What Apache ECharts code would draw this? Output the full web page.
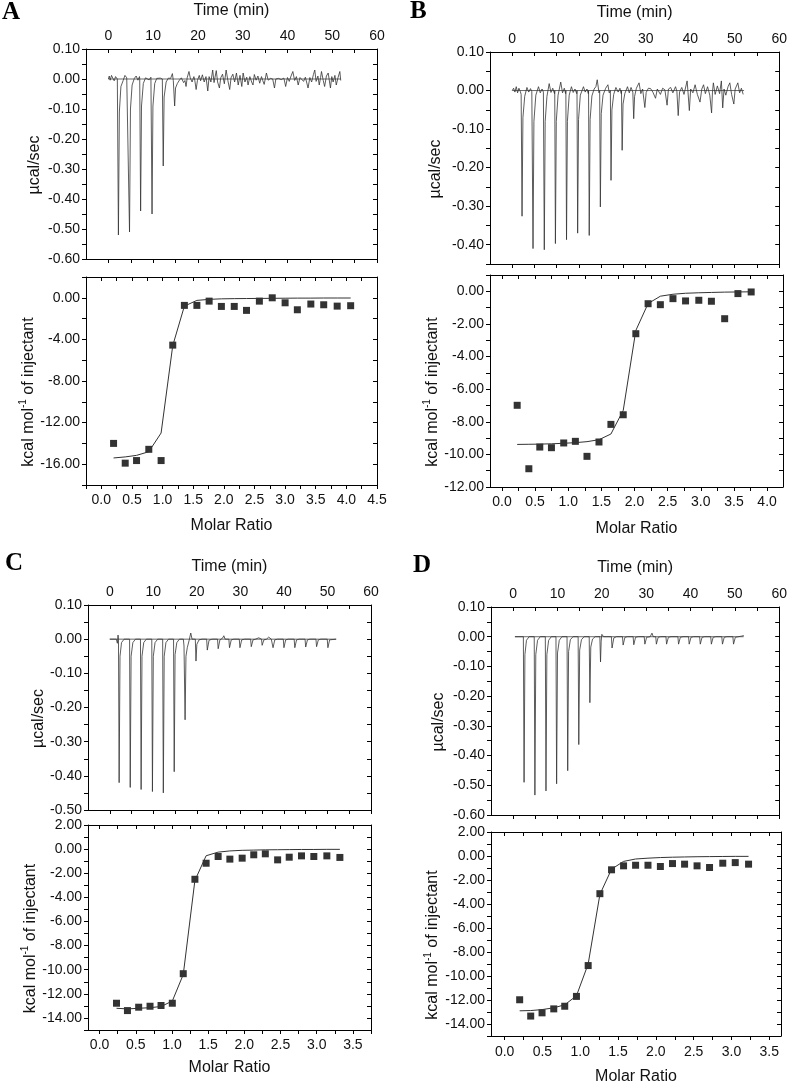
<!DOCTYPE html>
<html><head><meta charset="utf-8">
<script src="https://cdn.jsdelivr.net/npm/echarts@6/dist/echarts.min.js"></script>
<style>html,body{margin:0;padding:0;background:#fff}#c{width:790px;height:1086px}</style>
</head><body><div id="c"></div>
<script>
// ---------------- DATA ----------------
const timeLabels = [0,10,20,30,40,50,60];
const timeTicks = [0,5,10,15,20,25,30,35,40,45,50,55,60];

const powerLabA = [0.1,0,-0.1,-0.2,-0.3,-0.4,-0.5,-0.6];
const powerTickA = [0.1,0.05,0,-0.05,-0.1,-0.15,-0.2,-0.25,-0.3,-0.35,-0.4,-0.45,-0.5,-0.55,-0.6];
const powerLabB = [0.1,0,-0.1,-0.2,-0.3,-0.4];
const powerTickB = [0.1,0.05,0,-0.05,-0.1,-0.15,-0.2,-0.25,-0.3,-0.35,-0.4,-0.45];
const powerLabC = [0.1,0,-0.1,-0.2,-0.3,-0.4,-0.5];
const powerTickC = [0.1,0.05,0,-0.05,-0.1,-0.15,-0.2,-0.25,-0.3,-0.35,-0.4,-0.45,-0.5];
const powerLabD = [0.1,0,-0.1,-0.2,-0.3,-0.4,-0.5,-0.6];
const powerTickD = [0.1,0.05,0,-0.05,-0.1,-0.15,-0.2,-0.25,-0.3,-0.35,-0.4,-0.45,-0.5,-0.55,-0.6];

const heatLabA = [0,-4,-8,-12,-16];
const heatTickA = [2,0,-2,-4,-6,-8,-10,-12,-14,-16,-18];
const heatLabB = [0,-2,-4,-6,-8,-10,-12];
const heatTickB = [1,0,-1,-2,-3,-4,-5,-6,-7,-8,-9,-10,-11,-12];
const heatLabC = [2,0,-2,-4,-6,-8,-10,-12,-14];
const heatTickC = [2,1,0,-1,-2,-3,-4,-5,-6,-7,-8,-9,-10,-11,-12,-13,-14,-15];
const heatLabD = [2,0,-2,-4,-6,-8,-10,-12,-14];
const heatTickD = [2,1,0,-1,-2,-3,-4,-5,-6,-7,-8,-9,-10,-11,-12,-13,-14,-15];

const ratioLabA = [0,0.5,1,1.5,2,2.5,3,3.5,4,4.5];
const ratioTickA = [-0.25,0,0.25,0.5,0.75,1,1.25,1.5,1.75,2,2.25,2.5,2.75,3,3.25,3.5,3.75,4,4.25,4.5];
const ratioLabB = [0,0.5,1,1.5,2,2.5,3,3.5,4];
const ratioTickB = [0,0.25,0.5,0.75,1,1.25,1.5,1.75,2,2.25,2.5,2.75,3,3.25,3.5,3.75,4];
const ratioLabC = [0,0.5,1,1.5,2,2.5,3,3.5];
const ratioTickC = [0,0.25,0.5,0.75,1,1.25,1.5,1.75,2,2.25,2.5,2.75,3,3.25,3.5,3.75];
const ratioLabD = [0,0.5,1,1.5,2,2.5,3,3.5];
const ratioTickD = [0,0.25,0.5,0.75,1,1.25,1.5,1.75,2,2.25,2.5,2.75,3,3.25,3.5];

// raw thermograms [time (min), power (ucal/sec)]
const thermoA = [
[0,0],[0.2,0.01],[0.4,-0.004],[0.7,0.012],[1.0,0.002],[1.3,-0.006],[1.6,0.008],[1.9,0.002],
[2.0,0],[2.24,-0.52],[2.45,-0.11],[2.8,-0.025],[3.3,-0.005],[3.7,0.012],[4.1,0.004],[4.45,0.006],
[4.5,0],[4.72,-0.51],[4.93,-0.1],[5.3,-0.02],[5.8,0.002],[6.2,0.01],[6.6,-0.004],[6.95,0.008],
[7.0,0],[7.2,-0.44],[7.4,-0.09],[7.8,-0.015],[8.3,0.004],[8.7,0.01],[9.1,-0.003],[9.5,0.006],
[9.55,0],[9.75,-0.45],[9.95,-0.09],[10.35,-0.015],[10.8,0.002],[11.2,0.006],[11.6,0.003],[12.0,0.004],
[12.05,0],[12.25,-0.29],[12.45,-0.06],[12.9,-0.01],[13.4,0.003],[13.9,0.002],[14.3,0.018],[14.5,-0.005],
[14.6,0],[14.8,-0.09],[15.0,-0.03],[15.4,-0.015],[15.9,-0.003],[16.3,0.004],[16.8,-0.012],[17.1,-0.005],
[17.35,-0.025],[17.6,0.004],[18.0,0.025],[18.3,0.003],[18.7,-0.01],[19.1,0.008],[19.3,-0.004],
[19.6,-0.035],[19.9,-0.004],[20.3,0.012],[20.6,-0.006],[21.0,0.014],[21.4,-0.01],[21.8,0.008],
[22.2,-0.04],[22.5,0.008],[22.9,-0.01],[23.3,0.03],[23.6,-0.012],[24.1,0.028],[24.4,-0.01],
[24.8,-0.03],[25.1,0.004],[25.5,0.016],[25.9,-0.016],[26.3,0.03],[26.7,-0.006],
[27.1,-0.035],[27.4,0.004],[27.8,0.016],[28.2,-0.01],[28.6,0.02],[29.0,-0.02],[29.4,0.012],
[29.8,-0.025],[30.1,0.02],[30.5,-0.01],[30.9,0.006],[31.2,-0.02],[31.6,0.008],[32.0,-0.01],
[32.3,-0.02],[32.6,0.015],[33.0,-0.004],[33.4,0.01],[33.8,-0.014],[34.2,0.008],[34.5,-0.006],
[34.8,-0.018],[35.3,0.02],[35.7,-0.004],[36.2,0.002],[36.7,0],
[37.1,-0.03],[37.4,0],[38.0,0.002],[38.6,-0.002],[39.2,0.003],
[39.6,-0.025],[40.0,0.005],[40.4,-0.008],[40.8,0.01],[41.2,0.025],[41.6,-0.005],[42.0,0.008],
[42.4,-0.02],[42.8,0.005],[43.2,0.01],[43.6,-0.008],[44.0,0.006],
[44.6,-0.03],[45.0,0.005],[45.4,-0.01],[45.8,0.015],[46.1,0.03],[46.4,-0.008],[46.8,0.01],
[47.1,-0.02],[47.4,0.005],[47.6,0.025],[48.0,-0.005],
[48.3,-0.025],[48.7,0.01],[49.1,0.02],
[49.6,-0.03],[49.9,0.008],[50.2,-0.01],[50.6,0.012],[50.9,-0.02],[51.3,0.005],[51.7,0.025],[51.9,-0.005]
];
const thermoB = [
[0,0],[0.3,0.006],[0.6,-0.004],[0.9,0.01],[1.2,-0.006],[1.5,0.006],[1.8,-0.002],
[2.0,-0.01],[2.2,-0.326],[2.4,-0.07],[2.8,-0.015],[3.3,0.008],[3.7,-0.004],[4.1,0.005],[4.4,-0.003],
[4.5,0],[4.67,-0.41],[4.87,-0.08],[5.3,-0.012],[5.9,0.01],[6.3,-0.006],[6.7,0.004],[7.0,-0.004],
[7.05,0],[7.2,-0.413],[7.4,-0.08],[7.8,-0.015],[8.3,0.018],[8.7,-0.005],[9.1,0.006],[9.5,-0.008],
[9.55,0],[9.7,-0.397],[9.9,-0.08],[10.3,-0.012],[10.9,0.022],[11.3,-0.006],[11.7,0.006],[12.0,-0.008],
[12.05,0],[12.2,-0.387],[12.4,-0.08],[12.8,-0.012],[13.3,0.01],[13.7,-0.005],[14.1,0.004],[14.5,-0.008],
[14.55,0],[14.7,-0.37],[14.9,-0.075],[15.3,-0.012],[16.0,0.01],[16.4,-0.004],[16.8,0.004],[17.1,-0.008],
[17.15,0],[17.3,-0.376],[17.5,-0.075],[17.9,-0.014],[18.4,0.004],[18.8,0.01],[19.1,0.028],[19.5,-0.006],
[19.65,0],[19.8,-0.302],[20.0,-0.06],[20.4,-0.012],[21.0,0.006],[21.5,0.015],[21.8,-0.006],
[22.05,0],[22.2,-0.233],[22.4,-0.05],[22.8,-0.01],[23.3,0.008],[23.8,-0.004],[24.2,0.006],[24.5,-0.008],
[24.55,0],[24.7,-0.155],[24.9,-0.035],[25.3,-0.008],[25.9,0.01],[26.3,-0.006],[26.7,0.008],[27.1,-0.004],
[27.3,-0.073],[27.5,-0.015],[27.9,0.006],[28.5,0.02],[28.9,-0.008],[29.3,0.004],
[29.8,-0.044],[30.1,-0.005],[30.6,0.006],[31.1,0.005],[31.6,-0.004],
[32.2,-0.02],[32.6,0.004],[33.3,-0.01],[33.8,0.006],[34.3,0.002],
[34.8,-0.038],[35.1,0.004],[35.6,0.008],[36.1,-0.006],[36.7,0.01],[37.0,-0.002],
[37.3,-0.065],[37.6,-0.004],[38.1,0.008],[38.6,-0.01],[39.3,0.025],[39.5,-0.004],
[39.8,-0.052],[40.1,0.004],[40.6,-0.006],[41.1,0.015],[41.6,-0.01],
[42.2,-0.03],[42.6,0.004],[43.0,0.015],[43.4,-0.008],[43.9,0.01],[44.4,-0.012],
[44.8,-0.058],[45.0,-0.004],[45.2,0.02],[45.6,-0.01],[46.1,0.012],[46.6,-0.008],[47.0,0.025],
[47.3,-0.045],[47.6,0.004],[48.0,-0.012],[48.5,0.01],[48.9,0.02],[49.3,-0.01],
[49.8,-0.035],[50.1,0.004],[50.7,0.02],[51.1,-0.006],[51.5,0.006],[51.9,-0.01]
];
const thermoC = [
[0,0],[1.5,0],[1.75,-0.012],[1.9,0.012],[2.0,0],
[2.15,-0.42],[2.35,-0.05],[2.7,-0.01],[3.3,0],
[4.55,0],[4.7,-0.434],[4.9,-0.05],[5.3,-0.01],[5.9,0],
[7.05,0],[7.2,-0.44],[7.4,-0.05],[7.8,-0.01],[8.4,0],
[9.65,0],[9.8,-0.446],[10.0,-0.05],[10.4,-0.01],[11.0,0],
[12.15,0],[12.3,-0.45],[12.5,-0.05],[12.9,-0.01],[13.5,0],
[14.65,0],[14.8,-0.388],[15.0,-0.045],[15.4,-0.01],[16.0,0],
[16.9,0],[17.05,-0.02],[17.3,-0.236],[17.5,-0.05],[17.8,-0.025],[18.2,-0.005],[18.6,0.018],[18.9,0],
[19.65,0],[19.8,-0.064],[20.0,-0.015],[20.5,-0.002],[21.2,0],
[22.25,0],[22.4,-0.032],[22.8,-0.003],[23.5,0],
[24.75,0],[24.9,-0.028],[25.3,-0.002],[25.9,0.003],[26.2,0.01],[26.5,0],
[27.35,0],[27.5,-0.025],[27.9,-0.002],[28.5,0],
[29.75,0],[29.9,-0.025],[30.3,-0.002],[31,0],
[32.35,0],[32.5,-0.022],[32.9,-0.002],[33.5,0],[34.2,0.004],[34.6,0],
[34.85,0],[35.0,-0.018],[35.4,-0.002],[36.0,0],[36.5,0.006],[36.8,0.01],[37.1,0],
[37.35,0],[37.5,-0.025],[37.9,-0.002],[38.5,0],
[39.85,0],[40.0,-0.025],[40.4,-0.002],[41,0],
[42.35,0],[42.5,-0.025],[42.9,-0.002],[43.5,0],
[44.85,0],[45.0,-0.023],[45.4,-0.002],[46,0],
[47.35,0],[47.5,-0.022],[47.9,-0.002],[48.5,0],
[49.95,0],[50.1,-0.025],[50.5,-0.002],[52.0,0]
];
const thermoD = [
[0.4,0],[2.3,0],[2.46,-0.49],[2.65,-0.06],[3.0,-0.012],[3.6,0],
[4.75,0],[4.9,-0.533],[5.1,-0.06],[5.5,-0.012],[6.1,0],
[7.25,0],[7.4,-0.519],[7.6,-0.06],[8.0,-0.012],[8.6,0],
[9.65,0],[9.8,-0.495],[10.0,-0.055],[10.4,-0.012],[11.0,0],
[12.15,0],[12.3,-0.451],[12.5,-0.05],[12.9,-0.01],[13.5,0],
[14.65,0],[14.8,-0.363],[15.0,-0.045],[15.4,-0.01],[16.0,0],
[17.15,0],[17.3,-0.222],[17.5,-0.035],[17.9,-0.008],[18.5,0],
[19.55,0],[19.7,-0.085],[19.85,-0.015],[20.0,0.008],[20.4,0],
[22.15,0],[22.3,-0.038],[22.7,-0.004],[23.3,0],
[24.65,0],[24.8,-0.028],[25.2,-0.002],[25.8,0],
[27.05,0],[27.2,-0.027],[27.6,-0.002],[28.2,0],
[29.55,0],[29.7,-0.025],[30.1,-0.002],[30.9,0],[31.3,0.012],[31.6,0],
[32.15,0],[32.3,-0.025],[32.7,-0.002],[33.3,0],
[34.45,0],[34.6,-0.025],[35.0,-0.002],[35.6,0],
[37.15,0],[37.3,-0.025],[37.7,-0.002],[38.3,0],
[39.55,0],[39.7,-0.025],[40.1,-0.002],[40.7,0],
[42.05,0],[42.2,-0.025],[42.6,-0.002],[43.2,0],
[44.55,0],[44.7,-0.025],[45.1,-0.002],[45.7,0],
[47.05,0],[47.2,-0.025],[47.6,-0.002],[48.2,0],
[49.55,0],[49.7,-0.025],[50.1,-0.002],[51.5,0.002],[52.0,0.004]
];
const baselineA = [[0,0],[51.9,0]];
const baselineB = [[0,0],[52.1,0]];
const baselineC = [[0,0],[52.0,0]];
const baselineD = [[0.4,0],[52.0,0]];

// integrated heats
const ratioA = [0.20,0.39,0.575,0.775,0.976,1.166,1.356,1.56,1.76,1.96,2.17,2.37,2.58,2.79,3.0,3.2,3.42,3.63,3.85,4.07];
const heatA  = [-14.0,-15.9,-15.65,-14.57,-15.65,-4.55,-0.73,-0.73,-0.32,-0.83,-0.83,-1.21,-0.32,0.0,-0.48,-1.15,-0.6,-0.67,-0.8,-0.76];
const fitA   = [-15.4,-15.3,-15.15,-14.8,-13.0,-4.6,-0.8,-0.25,-0.15,-0.1,-0.08,-0.07,-0.06,-0.05,-0.04,-0.03,-0.03,-0.02,-0.02,-0.02];

const ratioB = [0.23,0.406,0.571,0.747,0.932,1.108,1.283,1.464,1.644,1.83,2.02,2.205,2.39,2.58,2.77,2.97,3.16,3.36,3.56,3.76];
const heatB  = [-6.99,-10.88,-9.55,-9.59,-9.3,-9.2,-10.12,-9.24,-8.16,-7.57,-2.6,-0.76,-0.82,-0.45,-0.59,-0.55,-0.61,-1.68,-0.14,-0.04];
const fitB   = [-9.39,-9.38,-9.37,-9.35,-9.32,-9.28,-9.22,-9.1,-8.75,-7.3,-2.4,-0.75,-0.3,-0.18,-0.12,-0.09,-0.07,-0.05,-0.04,-0.03];

const ratioC = [0.234,0.385,0.54,0.697,0.849,1.005,1.156,1.317,1.472,1.638,1.80,1.97,2.13,2.29,2.46,2.62,2.79,2.96,3.14,3.32];
const heatC  = [-12.78,-13.39,-13.11,-13.03,-12.97,-12.78,-10.33,-2.5,-1.17,-0.61,-0.83,-0.75,-0.47,-0.39,-0.89,-0.67,-0.56,-0.61,-0.56,-0.69];
const fitC   = [-13.2,-13.25,-13.2,-13.15,-13.05,-12.6,-10.4,-2.6,-0.55,-0.25,-0.15,-0.1,-0.08,-0.06,-0.05,-0.04,-0.03,-0.03,-0.02,-0.02];

const ratioD = [0.199,0.345,0.495,0.65,0.795,0.95,1.105,1.26,1.414,1.573,1.732,1.896,2.06,2.22,2.38,2.545,2.71,2.885,3.05,3.226];
const heatD  = [-11.98,-13.34,-13.07,-12.74,-12.52,-11.7,-9.13,-3.14,-1.15,-0.82,-0.77,-0.77,-0.875,-0.63,-0.68,-0.82,-0.96,-0.6,-0.55,-0.68];
const fitD   = [-12.9,-12.88,-12.8,-12.65,-12.4,-11.65,-9.0,-3.2,-1.1,-0.45,-0.25,-0.18,-0.13,-0.1,-0.08,-0.06,-0.05,-0.04,-0.03,-0.03];

// ---------------- LAYOUT ----------------
const FONT = '"Liberation Sans", Arial, Helvetica, sans-serif';
const panels = [
  { letter:'A', lx:2, ly:0,
    top:{left:86, top:49, width:291, height:210, ymin:-0.6, ymax:0.1, lab:powerLabA, tick:powerTickA, data:thermoA, base:baselineA, nameGap:43, tGap:30, tMargin:6},
    bot:{left:86, top:277, width:291, height:208, xmin:-0.25, xmax:4.5, ymin:-18, ymax:2, xlab:ratioLabA, xtick:ratioTickA, ylab:heatLabA, ytick:heatTickA, r:ratioA, h:heatA, f:fitA, nameGap:47, xGap:33, xMargin:8} },
  { letter:'B', lx:410, ly:-1,
    top:{left:490, top:52, width:293, height:212, ymin:-0.45, ymax:0.1, lab:powerLabB, tick:powerTickB, data:thermoB, base:baselineB, nameGap:46, tGap:31, tMargin:6},
    bot:{left:490, top:275, width:293, height:212, xmin:-0.18, xmax:4.24, ymin:-12, ymax:1, xlab:ratioLabB, xtick:ratioTickB, ylab:heatLabB, ytick:heatTickB, r:ratioB, h:heatB, f:fitB, nameGap:47, xGap:34, xMargin:8} },
  { letter:'C', lx:5, ly:551,
    top:{left:88, top:605, width:283, height:205, ymin:-0.5, ymax:0.1, lab:powerLabC, tick:powerTickC, data:thermoC, base:baselineC, nameGap:41, tGap:30, tMargin:6},
    bot:{left:88, top:825, width:283, height:205, xmin:-0.16, xmax:3.75, ymin:-15, ymax:2, xlab:ratioLabC, xtick:ratioTickC, ylab:heatLabC, ytick:heatTickC, r:ratioC, h:heatC, f:fitC, nameGap:47, xGap:29.5, xMargin:8} },
  { letter:'D', lx:413, ly:553,
    top:{left:491, top:607, width:291, height:208, ymin:-0.6, ymax:0.1, lab:powerLabD, tick:powerTickD, data:thermoD, base:baselineD, nameGap:44, tGap:31, tMargin:6},
    bot:{left:491, top:832, width:290, height:208, xmin:-0.18, xmax:3.655, ymin:-15, ymax:2, xlab:ratioLabD, xtick:ratioTickD, ylab:heatLabD, ytick:heatTickD, r:ratioD, h:heatD, f:fitD, nameGap:48, xGap:33, xMargin:9.5} }
];

const grids=[], xAxes=[], yAxes=[], series=[], graphics=[];
const lineSt = {color:'#000', width:1};
const labelSt = {fontSize:14, color:'#111', fontFamily:FONT};
const nameSt = {fontSize:16, color:'#111', fontFamily:FONT};

function mkAxis(o){
  return {
    gridIndex:o.g, type:'value', position:o.pos, min:o.min, max:o.max,
    axisLine:{show:true, onZero:false, lineStyle:lineSt},
    axisTick:{show:true, inside:o.inside, length:o.len||4, customValues:o.ticks, lineStyle:lineSt},
    axisLabel:Object.assign({show:!!o.labels, customValues:o.labels||[], formatter:o.fmt, margin:o.margin||6}, labelSt),
    splitLine:{show:false}, minorTick:{show:false},
    name:o.name||'', nameLocation:'middle', nameGap:o.nameGap||20, nameTextStyle:o.nameStyle||nameSt
  };
}

const yNameShift = [0,22,0,0];
panels.forEach(p=>{
  // ---- top (raw) ----
  const t=p.top;
  grids.push({left:t.left, top:t.top, width:t.width, height:t.height});
  let g=grids.length-1;
  xAxes.push(mkAxis({g, pos:'top', min:-5, max:60, inside:true, ticks:timeTicks, labels:timeLabels, fmt:v=>String(v), margin:t.tMargin, name:'Time (min)', nameGap:t.tGap}));
  const xt=xAxes.length-1;
  xAxes.push(mkAxis({g, pos:'bottom', min:-5, max:60, inside:false, ticks:timeTicks}));
  yAxes.push(mkAxis({g, pos:'left', min:t.ymin, max:t.ymax, inside:false, ticks:t.tick, labels:t.lab, fmt:v=>v.toFixed(2), margin:6, name:'µcal/sec', nameGap:t.nameGap, nameStyle:Object.assign({padding:yNameShift}, nameSt)}));
  const yt=yAxes.length-1;
  yAxes.push(mkAxis({g, pos:'right', min:t.ymin, max:t.ymax, inside:true, ticks:t.tick}));
  series.push({type:'line', xAxisIndex:xt, yAxisIndex:yt, data:t.base, showSymbol:false, symbol:'none', lineStyle:{color:'#444', width:0.8}, silent:true});
  series.push({type:'line', xAxisIndex:xt, yAxisIndex:yt, data:t.data, showSymbol:false, symbol:'none', lineStyle:{color:'#333', width:0.8}, silent:true});
  // ---- bottom (integrated) ----
  const b=p.bot;
  grids.push({left:b.left, top:b.top, width:b.width, height:b.height});
  g=grids.length-1;
  xAxes.push(mkAxis({g, pos:'bottom', min:b.xmin, max:b.xmax, inside:false, ticks:b.xtick, labels:b.xlab, fmt:v=>v.toFixed(1), margin:b.xMargin, name:'Molar Ratio', nameGap:b.xGap}));
  const xb=xAxes.length-1;
  xAxes.push(mkAxis({g, pos:'top', min:b.xmin, max:b.xmax, inside:true, ticks:b.xtick}));
  yAxes.push(mkAxis({g, pos:'left', min:b.ymin, max:b.ymax, inside:false, ticks:b.ytick, labels:b.ylab, fmt:v=>v.toFixed(2), margin:6,
    name:'{a|kcal mol}{s|-1}{a| of injectant}', nameGap:b.nameGap,
    nameStyle:{padding:yNameShift, rich:{a:Object.assign({lineHeight:20}, nameSt), s:{fontSize:10, color:'#111', fontFamily:FONT, lineHeight:10, verticalAlign:'top'}}}}));
  const yb=yAxes.length-1;
  yAxes.push(mkAxis({g, pos:'right', min:b.ymin, max:b.ymax, inside:true, ticks:b.ytick}));
  series.push({type:'line', xAxisIndex:xb, yAxisIndex:yb, data:b.r.map((r,i)=>[r,b.f[i]]), showSymbol:false, symbol:'none', lineStyle:{color:'#333', width:1}, silent:true});
  series.push({type:'scatter', xAxisIndex:xb, yAxisIndex:yb, data:b.r.map((r,i)=>[r,b.h[i]]), symbol:'rect', symbolSize:7, itemStyle:{color:'#000'}, silent:true});
  graphics.push({type:'text', left:p.lx, top:p.ly, style:{text:p.letter, font:'bold 25px "Liberation Serif", "Times New Roman", serif', fill:'#000'}});
});

const chart = echarts.init(document.getElementById('c'), null, {renderer:'canvas'});
chart.setOption({animation:false, backgroundColor:'#fff', grid:grids, xAxis:xAxes, yAxis:yAxes, series, graphic:graphics});
</script></body></html>
